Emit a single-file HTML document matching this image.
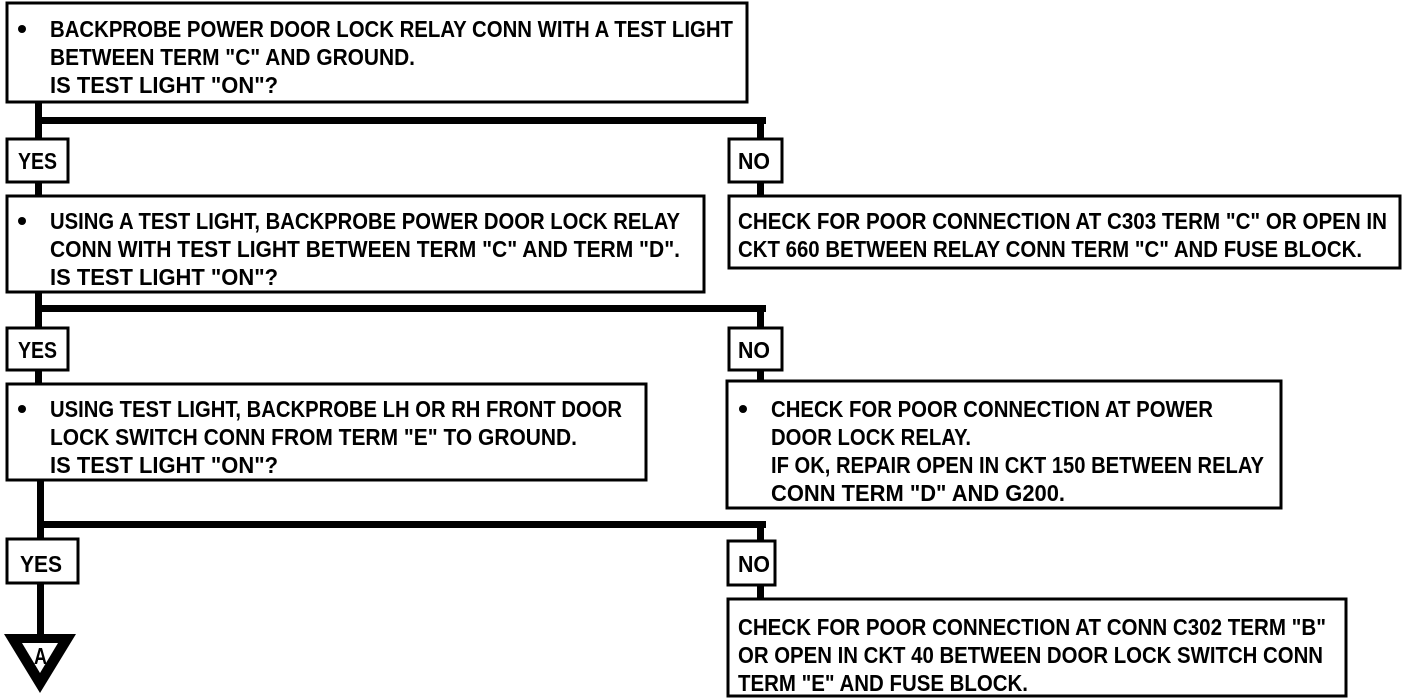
<!DOCTYPE html>
<html><head><meta charset="utf-8"><style>
html,body{margin:0;padding:0;background:#fff;}
svg{display:block;}
text{font-family:"Liberation Sans Narrow","Liberation Sans",sans-serif;font-weight:bold;font-size:23px;fill:#000;}
</style></head><body>
<svg width="1408" height="700" viewBox="0 0 1408 700" xmlns="http://www.w3.org/2000/svg">
<g fill="none" stroke="#000" stroke-width="3">
<rect x="7" y="3" width="740" height="99"/>
<rect x="7" y="139" width="61" height="43"/>
<rect x="729" y="139" width="53" height="43"/>
<rect x="7" y="196" width="697" height="96"/>
<rect x="729" y="196" width="671" height="72"/>
<rect x="7" y="328" width="61" height="42"/>
<rect x="729" y="328" width="53" height="42"/>
<rect x="7" y="384" width="639" height="96"/>
<rect x="727" y="381" width="554" height="127"/>
<rect x="7" y="539" width="71" height="44"/>
<rect x="728" y="541" width="47" height="44"/>
<rect x="728" y="599" width="618" height="97"/>
</g>
<g fill="#000">
<rect x="35" y="102" width="7" height="37"/>
<rect x="35" y="117" width="731" height="7"/>
<rect x="757" y="117" width="7" height="22"/>
<rect x="35" y="182" width="7" height="14"/>
<rect x="757" y="182" width="7" height="14"/>
<rect x="35" y="292" width="7" height="36"/>
<rect x="35" y="305" width="731" height="7"/>
<rect x="757" y="305" width="7" height="23"/>
<rect x="35" y="370" width="7" height="14"/>
<rect x="757" y="370" width="7" height="11"/>
<rect x="37" y="480" width="7" height="59"/>
<rect x="37" y="521" width="729" height="7"/>
<rect x="757" y="521" width="7" height="20"/>
<rect x="757" y="585" width="7" height="14"/>
<rect x="37" y="583" width="7" height="52"/>
<circle cx="22" cy="29" r="4"/>
<circle cx="22" cy="221" r="4"/>
<circle cx="22" cy="409" r="4"/>
<circle cx="743" cy="409" r="4"/>
<polygon points="4,634 76,634 40,693"/>
</g>
<polygon points="22,643 58,643 40,673" fill="#fff"/>
<text x="34" y="664" font-size="18" textLength="13" lengthAdjust="spacingAndGlyphs">A</text>

<text x="50" y="37" textLength="683" lengthAdjust="spacingAndGlyphs">BACKPROBE POWER DOOR LOCK RELAY CONN WITH A TEST LIGHT</text>
<text x="50" y="65" textLength="365" lengthAdjust="spacingAndGlyphs">BETWEEN TERM "C" AND GROUND.</text>
<text x="50" y="93" textLength="228" lengthAdjust="spacingAndGlyphs">IS TEST LIGHT "ON"?</text>

<text x="18" y="169" textLength="39" lengthAdjust="spacingAndGlyphs">YES</text>
<text x="738" y="169" textLength="32" lengthAdjust="spacingAndGlyphs">NO</text>

<text x="50" y="229" textLength="630" lengthAdjust="spacingAndGlyphs">USING A TEST LIGHT, BACKPROBE POWER DOOR LOCK RELAY</text>
<text x="50" y="257" textLength="630" lengthAdjust="spacingAndGlyphs">CONN WITH TEST LIGHT BETWEEN TERM "C" AND TERM "D".</text>
<text x="50" y="285" textLength="228" lengthAdjust="spacingAndGlyphs">IS TEST LIGHT "ON"?</text>

<text x="738" y="229" textLength="649" lengthAdjust="spacingAndGlyphs">CHECK FOR POOR CONNECTION AT C303 TERM "C" OR OPEN IN</text>
<text x="738" y="257" textLength="624" lengthAdjust="spacingAndGlyphs">CKT 660 BETWEEN RELAY CONN TERM "C" AND FUSE BLOCK.</text>

<text x="18" y="358" textLength="39" lengthAdjust="spacingAndGlyphs">YES</text>
<text x="738" y="358" textLength="32" lengthAdjust="spacingAndGlyphs">NO</text>

<text x="50" y="417" textLength="572" lengthAdjust="spacingAndGlyphs">USING TEST LIGHT, BACKPROBE LH OR RH FRONT DOOR</text>
<text x="50" y="445" textLength="527" lengthAdjust="spacingAndGlyphs">LOCK SWITCH CONN FROM TERM "E" TO GROUND.</text>
<text x="50" y="473" textLength="228" lengthAdjust="spacingAndGlyphs">IS TEST LIGHT "ON"?</text>

<text x="771" y="417" textLength="442" lengthAdjust="spacingAndGlyphs">CHECK FOR POOR CONNECTION AT POWER</text>
<text x="771" y="445" textLength="200" lengthAdjust="spacingAndGlyphs">DOOR LOCK RELAY.</text>
<text x="771" y="473" textLength="493" lengthAdjust="spacingAndGlyphs">IF OK, REPAIR OPEN IN CKT 150 BETWEEN RELAY</text>
<text x="771" y="501" textLength="294" lengthAdjust="spacingAndGlyphs">CONN TERM "D" AND G200.</text>

<text x="20" y="572" textLength="42" lengthAdjust="spacingAndGlyphs">YES</text>
<text x="738" y="572" textLength="32" lengthAdjust="spacingAndGlyphs">NO</text>

<text x="738" y="635" textLength="588" lengthAdjust="spacingAndGlyphs">CHECK FOR POOR CONNECTION AT CONN C302 TERM "B"</text>
<text x="738" y="663" textLength="585" lengthAdjust="spacingAndGlyphs">OR OPEN IN CKT 40 BETWEEN DOOR LOCK SWITCH CONN</text>
<text x="738" y="691" textLength="290" lengthAdjust="spacingAndGlyphs">TERM "E" AND FUSE BLOCK.</text>
</svg>
</body></html>
